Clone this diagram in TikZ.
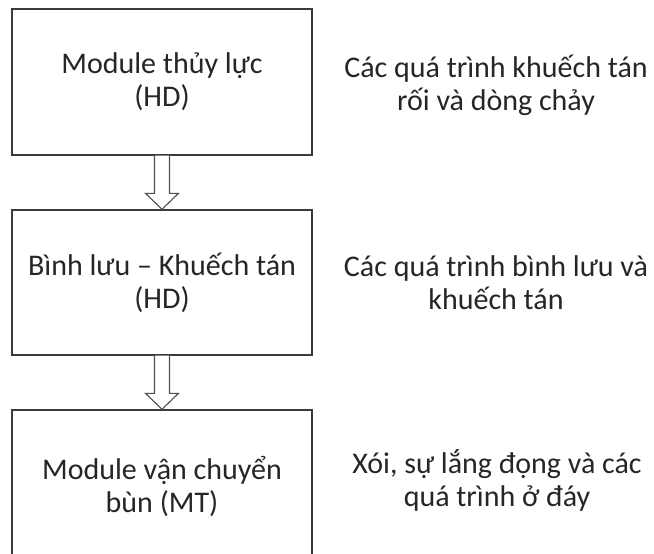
\documentclass[tikz,border=0pt]{standalone}
\usepackage{fontspec}
\setmainfont{Carlito}
\usetikzlibrary{calc}
\definecolor{ink}{HTML}{262626}
\definecolor{frame}{HTML}{3A3A3A}
\tikzset{
  modbox/.style={draw=frame, line width=1.4pt, minimum width=300pt, inner sep=0pt,
    align=center, text=ink, font=\fontsize{30}{33}\selectfont},
  note/.style={align=center, text=ink, font=\fontsize{30}{33}\selectfont, inner sep=0pt},
  flow/.style={draw=frame!90, line width=1.1pt, fill=white, line join=miter}
}
\newcommand{\blockarrow}[2]{%
  \draw[flow] ($(#1.south)+(-7.5,0)$) -- ($(#2.north)+(-7.5,-16)$)
    -- ($(#2.north)+(-16.5,-16)$) -- (#2.north) -- ($(#2.north)+(16.5,-16)$)
    -- ($(#2.north)+(7.5,-16)$) -- ($(#1.south)+(7.5,0)$);}
\begin{document}
\begin{tikzpicture}[x=1pt, y=-1pt]
  \clip (0,0) rectangle (654,554);
  \fill[white] (0,0) rectangle (654,554);
  % processing modules
  \node[modbox, minimum height=146pt] (b1) at (162,82) {Module thủy lực\\(HD)};
  \node[modbox, minimum height=145pt] (b2) at (162,282.5) {Bình lưu – Khuếch tán\\(HD)};
  \node[modbox, minimum height=152pt] (b3) at (162,486) {Module vận chuyển\\bùn (MT)};
  % links between modules
  \blockarrow{b1}{b2}
  \blockarrow{b2}{b3}
  % processes handled by each module
  \node[note] (r1) at (496,85) {Các quá trình khuếch tán\\rối và dòng chảy};
  \node[note] (r2) at (496,283) {Các quá trình bình lưu và\\khuếch tán};
  \node[note] (r3) at (497,480) {Xói, sự lắng đọng và các\\quá trình ở đáy};
\end{tikzpicture}
\end{document}
